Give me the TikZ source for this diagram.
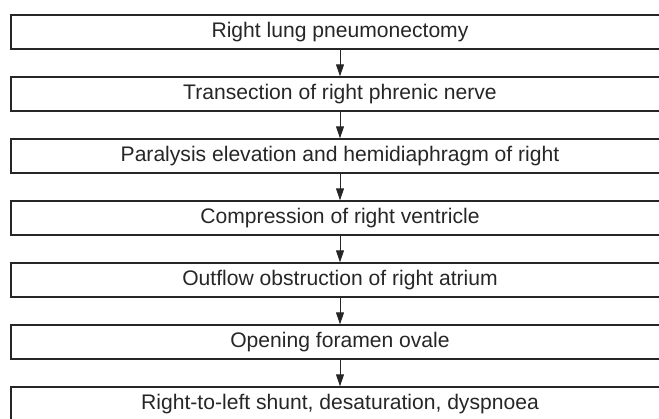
\documentclass[tikz,border=0pt]{standalone}
\usepackage{fontspec}
\setmainfont{Liberation Sans}
\usetikzlibrary{arrows.meta}
\begin{document}
\begin{tikzpicture}[x=1pt,y=1pt,
  box/.style={draw=black!85, line width=1.4pt, rectangle, minimum width=658pt, minimum height=34pt, inner sep=0pt, text=black!85, font=\fontsize{21.1}{25}\selectfont},
  arr/.style={draw=black!85, line width=1pt, -{Triangle[width=8pt,length=12pt]}}]
\useasboundingbox (0,0) rectangle (659,418);
\clip (0,0) rectangle (659,418);
\node[box] (b1) at (340,386) {Right lung pneumonectomy};
\node[box] (b2) at (340,324) {Transection of right phrenic nerve};
\node[box] (b3) at (340,262) {Paralysis elevation and hemidiaphragm of right};
\node[box] (b4) at (340,200) {Compression of right ventricle};
\node[box] (b5) at (340,138) {Outflow obstruction of right atrium};
\node[box] (b6) at (340,76) {Opening foramen ovale};
\node[box] (b7) at (340,14) {Right-to-left shunt, desaturation, dyspnoea};
\draw[arr] (b1.south) -- (b2.north);
\draw[arr] (b2.south) -- (b3.north);
\draw[arr] (b3.south) -- (b4.north);
\draw[arr] (b4.south) -- (b5.north);
\draw[arr] (b5.south) -- (b6.north);
\draw[arr] (b6.south) -- (b7.north);
\end{tikzpicture}
\end{document}
